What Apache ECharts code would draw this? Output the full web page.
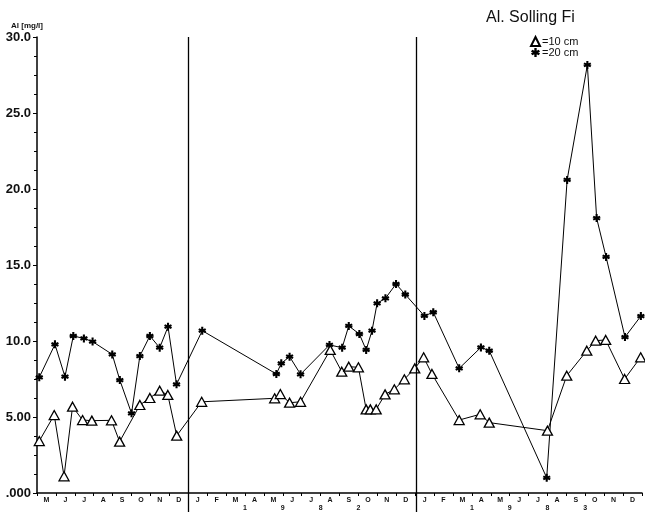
<!DOCTYPE html>
<html>
<head>
<meta charset="utf-8">
<script src="https://cdn.jsdelivr.net/npm/echarts@6/dist/echarts.min.js"></script>
<style>html,body{margin:0;padding:0;background:#fff}#c{width:645px;height:515px}</style>
</head>
<body>
<div id="c"></div>
<script>
// Month categories (May 1981 .. Dec 1983)
const monthLabels = ['M','J','J','A','S','O','N','D',
  'J','F','M','A','M','J','J','A','S','O','N','D',
  'J','F','M','A','M','J','J','A','S','O','N','D'];
// Year digits placed at month boundaries
const yearLabelAt = [11,13,15,17,23,25,27,29];
const yearLabelText = ['1','9','8','2','1','9','8','3'];
// Year dividers (month boundary index)
const yearDividers = [8, 20];
// Y tick labels
const yTickValues = [0,5,10,15,20,25,30];
const yTickLabels = ['.000','5.00','10.0','15.0','20.0','25.0','30.0'];

// 10 cm depth (triangles): time in months since 1 May 1981, Al mg/l
const t10Months = [0.12,0.91,1.43,1.88,2.41,2.90,3.94,4.37,5.44,5.97,6.49,6.92,7.39,8.71,
  12.57,12.87,13.36,13.94,15.51,16.12,16.49,17.00,17.41,17.63,17.94,18.41,18.90,19.43,19.98,
  20.45,20.89,22.33,23.44,23.92,27.00,28.02,29.08,29.55,30.08,31.08,31.93];
const t10Values = [3.42,5.13,1.1,5.68,4.8,4.76,4.78,3.38,5.79,6.25,6.73,6.45,3.77,6.0,
  6.23,6.51,5.94,6.0,9.41,7.98,8.31,8.27,5.5,5.5,5.5,6.49,6.82,7.48,8.2,
  8.93,7.83,4.8,5.18,4.63,4.1,7.72,9.36,10.02,10.07,7.5,8.93];

// 20 cm depth (asterisks)
const t20Months = [0.12,0.95,1.48,1.92,2.48,2.94,3.98,4.38,5.00,5.44,5.97,6.49,6.93,7.38,8.74,
  12.66,12.92,13.36,13.94,15.47,16.14,16.49,17.05,17.41,17.72,17.99,18.43,18.99,19.48,
  20.49,20.96,22.33,23.48,23.92,26.96,28.04,29.11,29.60,30.10,31.10,31.94];
const t20Values = [7.61,9.78,7.65,10.33,10.17,9.96,9.12,7.43,5.24,9.01,10.33,9.56,10.94,7.15,10.68,
  7.83,8.53,8.97,7.81,9.74,9.56,10.99,10.46,9.41,10.68,12.48,12.81,13.75,13.06,
  11.65,11.89,8.2,9.58,9.36,1.0,20.6,28.16,18.09,15.53,10.26,11.64];

const starPath = 'path://M-2.6,-10L2.6,-10L2.6,10L-2.6,10Z' +
  'M-10,-1.5L-7.4,-6L10,1.5L7.4,6Z' +
  'M7.4,-6L10,-1.5L-7.4,6L-10,1.5Z';

const FONT = 'Liberation Sans, Arial, sans-serif';
const nMonths = monthLabels.length;

const chart = echarts.init(document.getElementById('c'), null, {renderer: 'canvas'});
chart.setOption({
  animation: false,
  backgroundColor: '#fff',
  title: [
    {text: 'Al. Solling Fi', left: 481, top: 5,
      textStyle: {fontFamily: FONT, fontSize: 16, fontWeight: 'normal', color: '#111'}},
    {text: 'Al [mg/l]', left: 6, top: 17,
      textStyle: {fontFamily: FONT, fontSize: 8, fontWeight: 'bold', color: '#111'}}
  ],
  legend: {
    orient: 'vertical', left: 530, top: 36, padding: 0, itemGap: 0,
    itemWidth: 9, itemHeight: 9,
    textStyle: {fontFamily: FONT, fontSize: 11, color: '#111', padding: [0,0,0,-3]},
    data: [{name: '=10 cm', icon: 'triangle'}, {name: '=20 cm', icon: starPath}]
  },
  grid: [
    {left: 37, right: 2, top: 37, bottom: 22},
    {left: 37, right: 2, top: 37, bottom: 3}
  ],
  xAxis: [
    {type: 'value', gridIndex: 0, min: 0, max: nMonths, interval: 1,
      axisLine: {show: true, lineStyle: {color: '#000', width: 1.5}},
      axisTick: {show: true, length: 3, lineStyle: {color: '#000', width: 1}},
      axisLabel: {show: false}, splitLine: {show: false}},
    {type: 'category', gridIndex: 0, data: monthLabels, boundaryGap: true, position: 'bottom',
      axisLine: {show: false}, axisTick: {show: false},
      axisLabel: {interval: 0, margin: 4, fontFamily: FONT, fontSize: 7, fontWeight: 'bold', color: '#111'}},
    {type: 'value', gridIndex: 0, min: 0, max: nMonths, interval: 1, position: 'bottom',
      axisLine: {show: false}, axisTick: {show: false}, splitLine: {show: false},
      axisLabel: {margin: 12, fontFamily: FONT, fontSize: 7, fontWeight: 'bold', color: '#111',
        showMinLabel: true, showMaxLabel: true,
        formatter: v => { const i = yearLabelAt.indexOf(Math.round(v)); return i >= 0 ? yearLabelText[i] : ''; }}},
    {type: 'value', gridIndex: 1, min: 0, max: nMonths, show: false}
  ],
  yAxis: [
    {type: 'value', gridIndex: 0, min: 0, max: 30, interval: 5,
      axisLine: {show: true, lineStyle: {color: '#000', width: 1.5}},
      axisTick: {show: true, length: 4, lineStyle: {color: '#000', width: 1}},
      minorTick: {show: true, splitNumber: 4, length: 3, lineStyle: {color: '#000', width: 1}},
      splitLine: {show: false},
      axisLabel: {margin: 6, fontFamily: FONT, fontSize: 13, fontWeight: 'bold', color: '#111',
        formatter: v => { const i = yTickValues.indexOf(v); return i >= 0 ? yTickLabels[i] : ''; }}},
    {type: 'value', gridIndex: 1, min: 0, max: 1, show: false}
  ],
  series: [
    {name: '=20 cm', type: 'line', xAxisIndex: 0, yAxisIndex: 0,
      data: t20Months.map((m, i) => [m, t20Values[i]]),
      symbol: starPath, symbolSize: 8,
      lineStyle: {color: '#000', width: 1},
      itemStyle: {color: '#000'}},
    {name: '=10 cm', type: 'line', xAxisIndex: 0, yAxisIndex: 0,
      data: t10Months.map((m, i) => [m, t10Values[i]]),
      symbol: 'triangle', symbolSize: [10, 9],
      lineStyle: {color: '#000', width: 1},
      itemStyle: {color: '#fff', borderColor: '#000', borderWidth: 1.3}},
    {name: 'dividers', type: 'line', xAxisIndex: 3, yAxisIndex: 1, data: [], silent: true,
      markLine: {silent: true, symbol: 'none', label: {show: false},
        lineStyle: {color: '#000', width: 1.3, type: 'solid'},
        data: yearDividers.map(v => ({xAxis: v}))}}
  ]
});
</script>
</body>
</html>
